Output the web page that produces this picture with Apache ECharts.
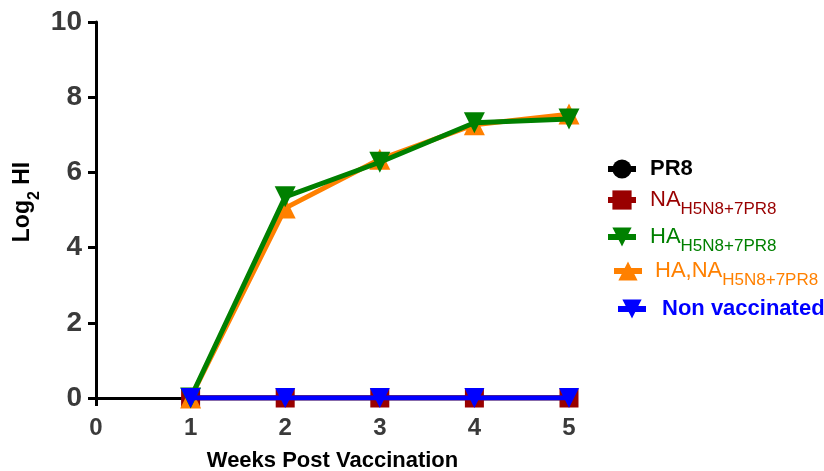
<!DOCTYPE html>
<html><head><meta charset="utf-8">
<script src="https://cdn.jsdelivr.net/npm/echarts@6/dist/echarts.min.js"></script>
<style>html,body{margin:0;padding:0;background:#fff}#c{width:824px;height:471px}</style>
</head><body><div id="c"></div>
<script>
const weeks = [1, 2, 3, 4, 5];
const pr8 = [0, 0, 0, 0, 0];
const naH5N8 = [0, 0, 0, 0, 0];
const haH5N8 = [0, 5.35, 6.27, 7.32, 7.42];
const hanaH5N8 = [0, 5.05, 6.35, 7.27, 7.55];
const nonVacc = [0, 0, 0, 0, 0];
const xTicks = [0, 1, 2, 3, 4, 5];
const yTicks = [0, 2, 4, 6, 8, 10];

const pair = (arr) => weeks.map((w, i) => [w, arr[i]]);
const F = 'Arial, "Liberation Sans", sans-serif';
const DOWN = 'path://M0,0 L10,0 L5,9 Z';

const seriesDefs = [
  {name: 'PR8', data: pr8, color: '#000000', symbol: 'circle', size: 18, z: 2},
  {name: 'NA', data: naH5N8, color: '#990000', symbol: 'rect', size: 19, z: 3},
  {name: 'HA,NA', data: hanaH5N8, color: '#ff8000', symbol: 'triangle', size: 21, z: 4},
  {name: 'HA', data: haH5N8, color: '#008000', symbol: DOWN, size: 21, z: 5},
  {name: 'Non vaccinated', data: nonVacc, color: '#0000ff', symbol: DOWN, size: 20, z: 6}
];

const chart = echarts.init(document.getElementById('c'));
const sub = {fontSize: 17, fontFamily: F, verticalAlign: 'bottom', padding: [0,0,-7,0]};
const legendSpec = [
  {name: 'PR8', left: 605, top: 158, pad: 9, text: '{b|PR8}', rich: {b: {fontSize: 22, fontWeight: 'bold', color: '#000', fontFamily: F}}},
  {name: 'NA', left: 605, top: 189, pad: 9, text: '{m|NA}{s|H5N8+7PR8}', rich: {m: {fontSize: 22, color: '#990000', fontFamily: F}, s: Object.assign({color: '#990000'}, sub)}},
  {name: 'HA', left: 605, top: 226, pad: 9, text: '{m|HA}{s|H5N8+7PR8}', rich: {m: {fontSize: 22, color: '#008000', fontFamily: F}, s: Object.assign({color: '#008000'}, sub)}},
  {name: 'HA,NA', left: 611, top: 260, pad: 8, text: '{m|HA,NA}{s|H5N8+7PR8}', rich: {m: {fontSize: 22, color: '#ff8000', fontFamily: F}, s: Object.assign({color: '#ff8000'}, sub)}},
  {name: 'Non vaccinated', left: 615, top: 298, pad: 11, text: '{b|Non vaccinated}', rich: {b: {fontSize: 22, fontWeight: 'bold', color: '#0000ff', fontFamily: F}}}
];

chart.setOption({
  animation: false,
  grid: {left: 96, right: 255, top: 22, bottom: 73, outerBoundsMode: 'none', containLabel: false},
  legend: legendSpec.map(l => ({
    data: [l.name], left: l.left, top: l.top, orient: 'vertical', padding: 0,
    itemWidth: 28, itemHeight: 24, itemGap: 10,
    lineStyle: {width: 6},
    formatter: () => l.text,
    textStyle: {rich: l.rich, fontFamily: F, padding: [0, 0, 0, l.pad]}
  })),
  xAxis: {
    type: 'value', min: 0, max: 5, interval: 1,
    name: 'Weeks Post Vaccination', nameLocation: 'middle', nameGap: 52,
    nameTextStyle: {fontSize: 22, fontWeight: 'bold', color: '#000', fontFamily: F},
    axisLine: {lineStyle: {color: '#000', width: 3}},
    axisTick: {show: true, length: 8, lineStyle: {color: '#000', width: 3}},
    axisLabel: {fontSize: 24, fontWeight: 'bold', color: '#3a3a3a', margin: 18, fontFamily: F,
      customValues: xTicks},
    splitLine: {show: false}
  },
  yAxis: {
    type: 'value', min: 0, max: 10, interval: 2,
    name: '{m|Log}{s|2}{m| HI}', nameLocation: 'middle', nameGap: 62, nameRotate: 90,
    nameMoveOverlap: false,
    nameTextStyle: {padding: [0, 0, 0, 16], rich: {
      m: {fontSize: 23, fontWeight: 'bold', color: '#000', fontFamily: F},
      s: {fontSize: 16, fontWeight: 'bold', color: '#000', fontFamily: F, verticalAlign: 'bottom', padding: [0,0,-9,0]}
    }},
    axisLine: {show: true, lineStyle: {color: '#000', width: 3}},
    axisTick: {show: true, length: 8, lineStyle: {color: '#000', width: 3}},
    axisLabel: {fontSize: 28, fontWeight: 'bold', color: '#3a3a3a', margin: 14, fontFamily: F,
      customValues: yTicks},
    splitLine: {show: false}
  },
  series: seriesDefs.map(s => ({
    name: s.name, type: 'line', data: pair(s.data), z: s.z,
    symbol: s.symbol, symbolSize: s.size, showSymbol: true,
    lineStyle: {color: s.color, width: 5},
    itemStyle: {color: s.color, opacity: 1},
    emphasis: {disabled: true}
  }))
});
</script></body></html>
